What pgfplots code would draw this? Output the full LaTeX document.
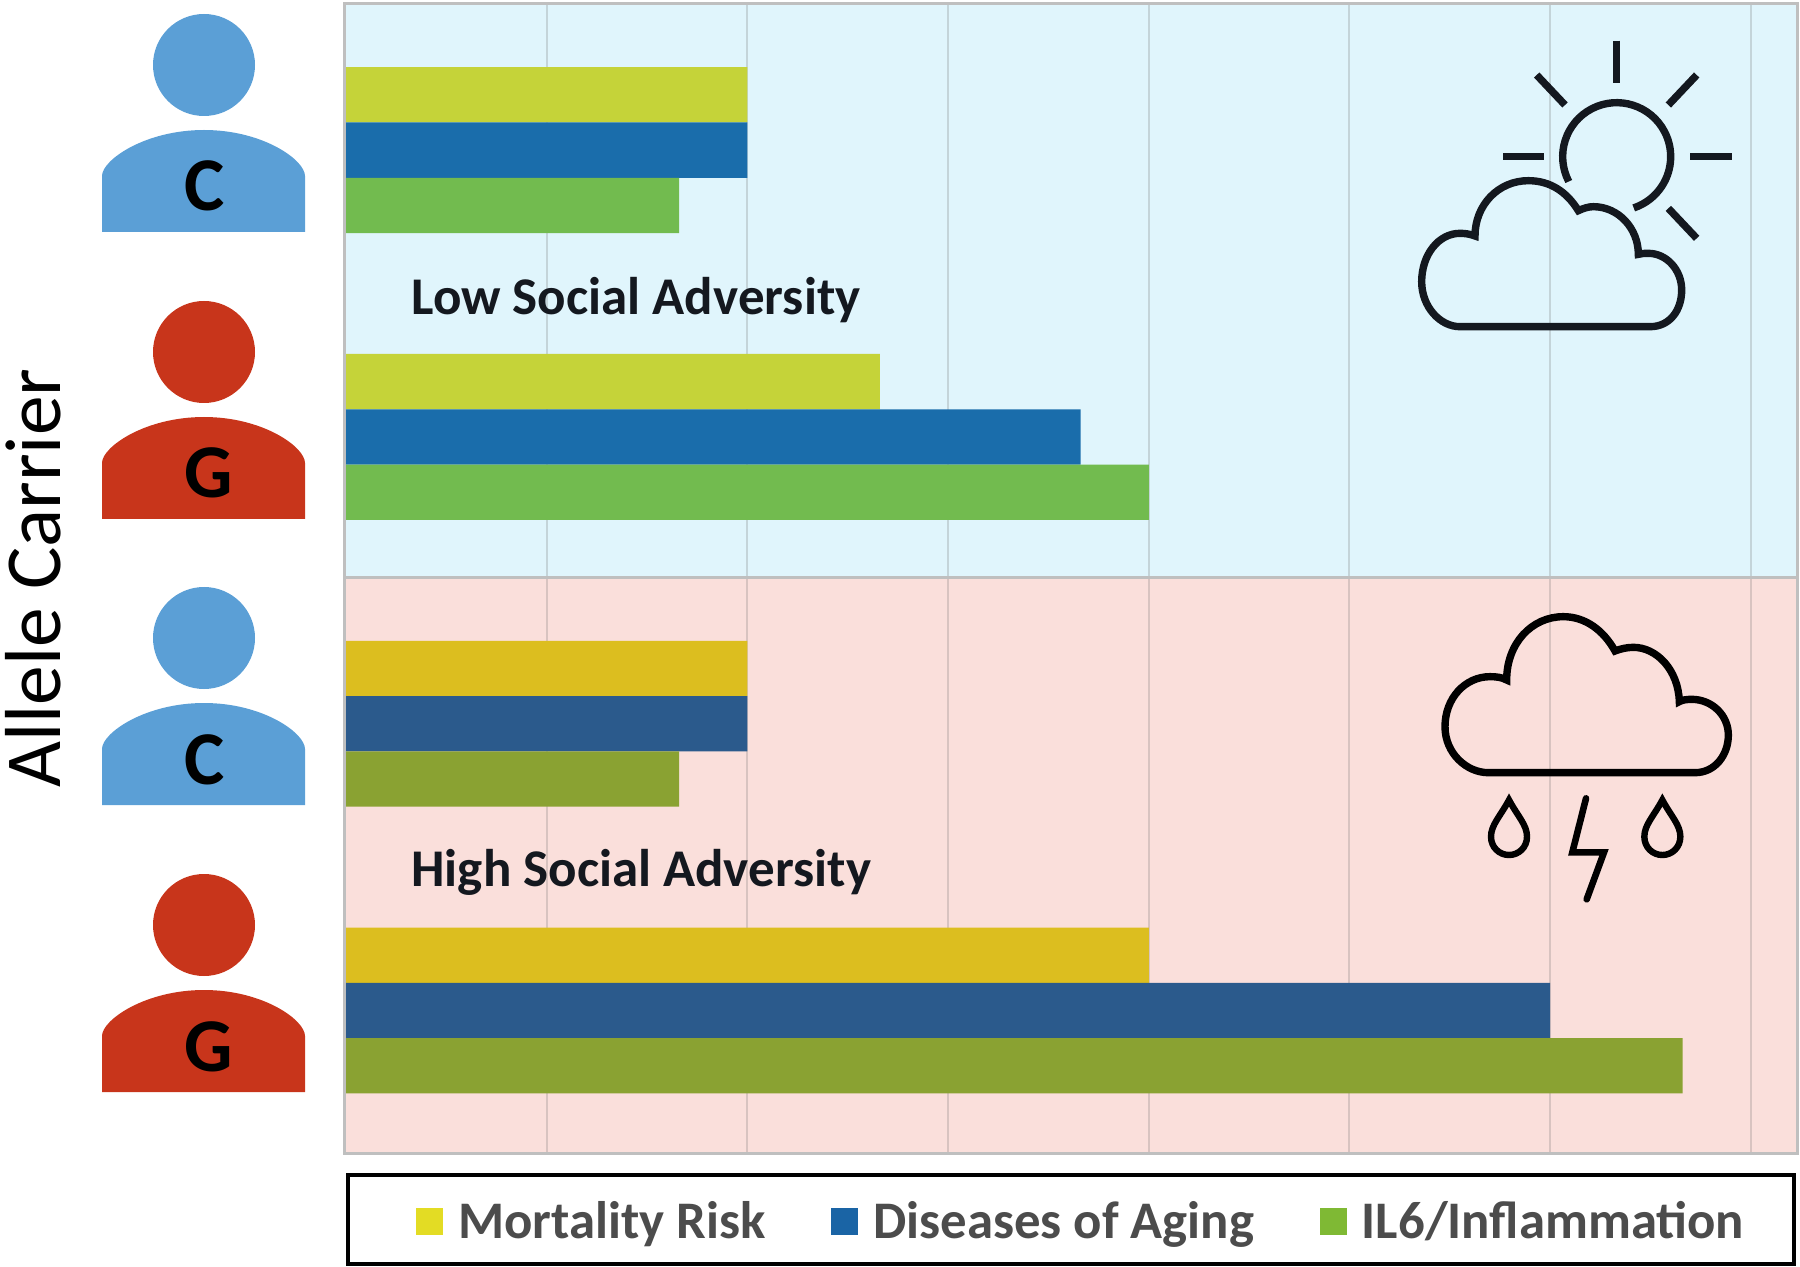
\documentclass[border=0pt]{standalone}
\usepackage{pgfplots}
\pgfplotsset{compat=1.18}
\usepackage{fontspec}
\setmainfont{Carlito}

\definecolor{bgblue}{HTML}{E0F5FC}
\definecolor{bgred}{HTML}{FADFDB}
\definecolor{lowY}{HTML}{C5D339}
\definecolor{lowB}{HTML}{1A6DAB}
\definecolor{lowG}{HTML}{72BB4F}
\definecolor{highY}{HTML}{DCBE1F}
\definecolor{highB}{HTML}{2B5A8C}
\definecolor{highG}{HTML}{8AA232}
\definecolor{legY}{HTML}{E3DC24}
\definecolor{legB}{HTML}{1A64A5}
\definecolor{legG}{HTML}{7FB934}
\definecolor{carrC}{HTML}{5B9FD6}
\definecolor{carrG}{HTML}{C8351B}
\definecolor{inkdark}{HTML}{14181F}

% person icon: y offset in px, colour, letter, letter x
\newcommand{\person}[4]{%
  \fill[#2] (204,65+#1) circle[radius=51];
  \fill[#2] (102,232+#1) -- (102,176+#1)
    .. controls (102,160+#1) and (145,130+#1) .. (204,130+#1)
    .. controls (263,130+#1) and (305,160+#1) .. (305,176+#1)
    -- (305,232+#1) -- cycle;
  \node[anchor=base,inner sep=0pt,text=black] at (#4,211+#1)
    {\fontsize{38}{38}\selectfont\bfseries #3};
}

\begin{document}
\begin{tikzpicture}
\useasboundingbox (0pt,0pt) rectangle (900pt,-633.5pt);

% panels sit under the axis grid
\begin{scope}[x=0.5pt,y=-0.5pt]
  \fill[bgblue] (344,3) rectangle (1797,578);
  \fill[bgred] (344,578) rectangle (1797,1153);
\end{scope}

\begin{axis}[
    at={(172pt,-1.5pt)}, anchor=north west,
    scale only axis, width=726.5pt, height=575pt,
    xbar, bar width=27.65pt,
    y dir=reverse,
    xmin=-0.01, xmax=7.23,
    ymin=-0.513, ymax=3.497,
    xtick={1,2,3,4,5,6,7}, xticklabels={},
    ytick=\empty,
    major tick length=0pt,
    xmajorgrids,
    grid style={line width=1pt, black!55, opacity=0.25},
    axis line style={line width=1.5pt, black!25},
    legend columns=3,
    legend style={
      at={(0.0494,-0.042)}, anchor=north west,
      draw=none, fill=none, inner xsep=0pt, inner ysep=0pt,
      font=\fontsize{26.4}{26.4}\selectfont\bfseries,
      text=black!70,
      nodes={inner sep=0pt},
      legend cell align=left,
      /tikz/every odd column/.append style={column sep=7.5pt},
      /tikz/every even column/.append style={column sep=32.8pt},
    },
    legend image code/.code={\fill[#1] (0pt,-6.75pt) rectangle (13.5pt,6.75pt);},
  ]
  % low social adversity
  \addplot[forget plot, draw=none, fill=lowY, bar shift=27.65pt] coordinates {(2.00,0) (2.66,1)};
  \addplot[forget plot, draw=none, fill=lowB, bar shift=0pt] coordinates {(2.00,0) (3.66,1)};
  \addplot[forget plot, draw=none, fill=lowG, bar shift=-27.65pt] coordinates {(1.66,0) (4.00,1)};
  % high social adversity
  \addplot[forget plot, draw=none, fill=highY, bar shift=27.65pt] coordinates {(2.00,2) (4.00,3)};
  \addplot[forget plot, draw=none, fill=highB, bar shift=0pt] coordinates {(2.00,2) (6.00,3)};
  \addplot[forget plot, draw=none, fill=highG, bar shift=-27.65pt] coordinates {(1.66,2) (6.66,3)};
  \addlegendimage{draw=none, fill=legY}
  \addlegendentry{Mortality Risk}
  \addlegendimage{draw=none, fill=legB}
  \addlegendentry{Diseases of Aging}
  \addlegendimage{draw=none, fill=legG}
  \addlegendentry{IL6/Inflammation}
\end{axis}

\begin{scope}[x=0.5pt,y=-0.5pt]
  \draw[line width=1.5pt,black!25] (344,578) -- (1797,578);
  \draw[line width=1.8pt,black] (348,1175) rectangle (1794,1264);

  \person{0}{carrC}{C}{205}
  \person{287}{carrG}{G}{209}
  \person{573}{carrC}{C}{205}
  \person{860}{carrG}{G}{209}

  \node[anchor=base,rotate=90,inner sep=0pt,text=black] at (60,578)
    {\fontsize{39.7}{39.7}\selectfont Allele Carrier};
  \node[anchor=base west,inner sep=0pt,text=inkdark] at (411,315)
    {\fontsize{26.5}{26.5}\selectfont\bfseries Low Social Adversity};
  \node[anchor=base west,inner sep=0pt,text=inkdark] at (411,886)
    {\fontsize{26.5}{26.5}\selectfont\bfseries High Social Adversity};
\end{scope}

% sun and cloud, in the pixels of a 3x crop
\begin{scope}[shift={(690pt,-10pt)},x=0.16667pt,y=-0.16667pt,inkdark,line width=3.7pt]
  \draw (710,410) ++(152.6:162) arc[start angle=152.6,end angle=431.6,radius=162];
  \draw (710,62) -- (710,188);
  \draw (950,165) -- (865,255);
  \draw (930,410) -- (1055,410);
  \draw (865,565) -- (950,655);
  \draw (470,165) -- (555,255);
  \draw (370,410) -- (492,410);
  \draw (240,920) -- (810,920) .. controls (870,920) and (905,870) .. (905,810)
    .. controls (905,750) and (860,700) .. (805,700)
    .. controls (795,700) and (785,700) .. (775,703)
    .. controls (775,625) and (715,560) .. (640,560)
    .. controls (625,560) and (610,565) .. (595,572)
    .. controls (560,515) and (510,482) .. (445,482)
    .. controls (355,482) and (285,555) .. (285,648)
    .. controls (270,642) and (255,640) .. (240,640)
    .. controls (175,640) and (125,705) .. (125,785)
    .. controls (125,860) and (180,920) .. (240,920) -- cycle;
\end{scope}

% storm cloud
\begin{scope}[shift={(700pt,-295pt)},x=0.16667pt,y=-0.16667pt,black,line width=3.7pt]
  \draw (265,548) -- (885,548) .. controls (945,548) and (985,495) .. (985,435)
    .. controls (985,375) and (935,328) .. (875,328)
    .. controls (860,328) and (845,330) .. (838,335)
    .. controls (835,240) and (770,172) .. (700,172)
    .. controls (680,172) and (660,177) .. (645,183)
    .. controls (610,120) and (555,80) .. (490,80)
    .. controls (395,80) and (320,160) .. (320,270)
    .. controls (305,262) and (290,260) .. (270,260)
    .. controls (195,260) and (135,325) .. (135,410)
    .. controls (135,490) and (200,548) .. (265,548) -- cycle;
  \foreach \dx in {0,460} {
    \draw[line width=3.2pt] (327+\dx,630) .. controls (300+\dx,680) and (273+\dx,705) .. (273+\dx,740)
      .. controls (273+\dx,772) and (298+\dx,795) .. (327+\dx,795)
      .. controls (356+\dx,795) and (381+\dx,772) .. (381+\dx,740)
      .. controls (381+\dx,705) and (354+\dx,680) .. (327+\dx,630) -- cycle;
  }
  \draw[line width=3.3pt,line cap=round] (558,625) -- (517,787) -- (612,787) -- (560,928);
\end{scope}
\end{tikzpicture}
\end{document}
